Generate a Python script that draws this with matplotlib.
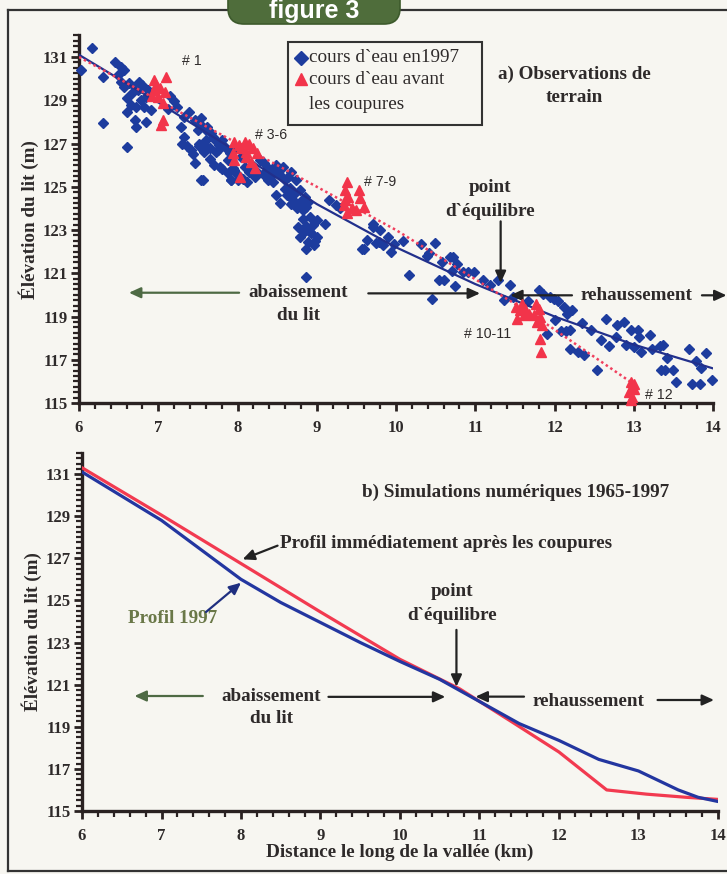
import matplotlib
matplotlib.use("Agg")
import matplotlib.pyplot as plt
from matplotlib.patches import Rectangle, FancyBboxPatch
from matplotlib.lines import Line2D
from matplotlib.transforms import IdentityTransform
from matplotlib.ticker import MultipleLocator

# ---------------- data : panel a (observations) ----------------
blue_x = [6.17, 6.02, 6.46, 6.53, 6.57, 6.30, 6.49, 6.53, 6.63, 6.70, 6.76, 6.67, 6.61, 6.65, 6.72,
          6.78, 6.82, 6.87, 6.84, 6.61, 6.70, 6.84, 6.72, 6.91, 6.30, 6.61, 6.57, 6.74, 6.80,
          7.15, 7.20, 7.12, 7.24, 7.33, 7.39, 7.29, 7.33, 7.46, 7.54, 7.50, 7.60, 7.41, 7.46, 7.54,
          7.62, 7.69, 7.75, 7.81, 7.88, 7.92, 7.96, 8.00, 8.05, 7.30, 7.36, 7.44, 7.52, 7.58, 7.65,
          7.70, 7.78,
          7.54, 7.60, 7.67, 7.58, 7.71, 7.77, 7.65, 7.84, 7.73, 7.90, 7.96, 7.52, 7.56, 7.81, 7.88,
          7.94, 7.92, 8.00, 8.07, 8.15, 8.22, 8.28, 8.34, 8.39, 8.43, 8.47, 8.53, 8.60, 8.64, 8.49,
          8.57, 8.68, 8.74, 8.66, 8.72, 8.79, 8.85, 8.89, 8.49, 8.53, 8.79, 8.83, 8.87, 8.91, 8.95,
          8.93, 9.00, 8.89, 8.76, 8.79, 8.87, 8.87, 9.00, 9.10, 9.16, 9.24, 9.29, 9.57, 9.71, 9.78,
          9.63, 8.60, 8.70, 8.75, 8.82, 8.86, 8.92, 8.96, 8.98, 8.84, 8.68, 8.62, 8.10, 8.18, 8.25,
          8.32, 8.38, 8.45, 8.12,
          9.71, 9.80, 9.90, 9.75, 9.84, 9.97, 9.94, 9.59, 10.09, 10.16, 10.32, 10.49, 10.41, 10.39,
          10.58, 10.68, 10.72, 10.77, 10.54, 10.60, 10.70, 10.75, 10.85, 10.91, 10.98, 10.45, 11.10,
          11.19, 11.29, 11.44, 11.36, 11.48,
          11.80, 11.86, 11.66, 11.94, 11.99, 12.04, 12.12, 12.22, 12.16, 12.01, 11.91, 12.08, 12.14,
          12.20, 12.35, 12.46, 12.58, 12.20, 12.30, 12.37, 12.54, 12.65, 12.69, 12.77, 12.79, 12.88,
          12.96, 13.05, 13.07, 12.90, 13.00, 13.09, 13.21, 13.23, 13.33, 13.37, 13.42, 13.34, 13.40,
          13.49, 13.53, 13.70, 13.78, 13.85, 13.74, 13.83, 13.91, 13.99]
blue_y = [131.40, 130.40, 130.78, 130.55, 130.40, 130.09, 130.17, 129.86, 129.78, 129.63, 129.86,
          129.32, 129.09, 128.78, 128.70, 129.01, 128.70, 129.47, 129.16, 128.47, 128.08, 128.01,
          127.78, 128.55, 127.93, 126.85, 129.63, 129.47, 129.70,
          129.20, 128.95, 128.60, 128.70, 128.24, 128.47, 127.78, 127.31, 128.08, 128.16, 127.62,
          127.16, 126.70, 126.08, 125.31, 127.78, 127.31, 126.70, 127.16, 126.23, 125.31, 125.77,
          125.31, 126.39, 127.00, 126.90, 126.50, 126.90, 126.60, 126.30, 126.00, 125.90,
          127.85, 127.62, 127.47, 127.00, 127.16, 126.93, 126.77, 126.85, 126.62, 126.54, 126.70,
          127.00, 125.31, 125.80, 125.62, 125.85, 125.31, 125.54, 125.38, 125.69, 125.46, 126.23,
          126.08, 125.85, 125.54, 125.77, 125.54, 125.31, 125.46, 126.00, 125.92, 125.69, 125.31,
          124.93, 124.69, 124.85, 124.53, 124.31, 124.61, 124.23, 124.31, 123.92, 124.07, 123.61,
          123.22, 122.84, 122.68, 122.45, 123.15, 122.68, 122.10, 120.83, 123.46, 123.30, 124.38,
          124.15, 124.04, 122.14, 123.15, 122.45, 122.53, 124.90, 124.40, 124.00, 123.50, 123.20,
          122.90, 122.30, 122.50, 122.90, 124.20, 124.60, 125.90, 126.00, 125.70, 125.60, 125.30,
          125.20, 125.20,
          123.26, 122.99, 122.68, 122.40, 122.30, 122.37, 121.99, 122.10, 122.49, 120.91, 122.37,
          122.40, 121.92, 121.79, 121.53, 121.73, 121.76, 121.42, 120.68, 120.71, 121.11, 120.40,
          121.07, 121.07, 121.07, 119.83, 120.68, 120.45, 120.68, 120.45, 119.75, 119.91,
          120.21, 120.06, 119.72, 119.89, 119.80, 119.72, 119.44, 119.29, 119.10, 118.83, 118.21,
          118.33, 118.33, 118.36, 118.71, 118.36, 117.90, 117.52, 117.36, 117.21, 116.52, 118.88,
          117.63, 118.06, 118.59, 118.74, 118.36, 118.36, 118.06, 117.67, 117.60, 117.36, 118.14,
          117.52, 117.63, 117.69, 117.06, 116.52, 116.52, 116.52, 115.98, 117.52, 116.95, 116.60,
          115.90, 115.90, 117.29, 116.06]

red_x = [6.95, 6.97, 7.10, 7.08, 7.06, 7.00, 6.95, 7.04, 7.06, 6.92, 7.02,
         7.96, 8.02, 8.09, 8.15, 8.19, 8.24, 7.94, 7.96, 8.11, 8.17, 8.22, 8.03, 8.11, 8.05,
         9.38, 9.36, 9.40, 9.34, 9.45, 9.53, 9.55, 9.59, 9.38, 9.49, 9.36,
         11.51, 11.57, 11.63, 11.53, 11.61, 11.68, 11.59, 11.76, 11.80, 11.74, 11.82, 11.78, 11.84,
         11.82, 11.83,
         12.96, 12.98, 12.94, 13.00, 12.96, 12.98, 13.00]
red_y = [129.94, 129.70, 130.09, 129.40, 128.86, 129.16, 129.47, 127.85, 128.08, 129.20, 129.55,
         127.08, 126.93, 127.08, 127.00, 126.77, 126.54, 126.54, 126.23, 126.39, 126.15, 125.85,
         125.46, 126.62, 126.80,
         125.23, 124.85, 124.53, 124.15, 124.00, 124.85, 124.46, 124.07, 123.77, 123.92, 124.40,
         119.44, 119.28, 119.36, 118.90, 119.05, 119.13, 119.60, 119.59, 119.36, 119.05, 118.98,
         118.74, 118.59, 117.97, 117.36,
         115.98, 115.75, 115.52, 115.67, 115.14, 115.30, 115.90]

fit1997_x = [6, 7, 8, 9, 10, 11, 12, 13, 14]
fit1997_y = [131.1, 128.9, 126.6, 124.2, 122.2, 120.5, 119.0, 117.7, 116.6]
fitavant_x = [6, 8, 10, 11.8, 12.95]
fitavant_y = [131.0, 127.0, 123.0, 118.9, 116.0]

# ---------------- data : panel b (simulations) ----------------
sim1997_x = [6, 7, 8, 8.5, 9, 9.5, 10, 10.5, 11, 11.5, 12, 12.5, 13, 13.5, 13.75, 14]
sim1997_y = [131.1, 128.8, 126.0, 124.9, 123.95, 123.0, 122.1, 121.25, 120.2, 119.15, 118.35,
             117.45, 116.9, 116.0, 115.65, 115.45]
simavant_x = [6, 7, 8, 9, 10, 10.75, 11.4, 12, 12.6, 13.1, 13.6, 14]
simavant_y = [131.3, 129.05, 126.75, 124.45, 122.2, 120.8, 119.25, 117.8, 116.0, 115.8, 115.65, 115.55]

xticks = [6, 7, 8, 9, 10, 11, 12, 13, 14]
yticks = [115, 117, 119, 121, 123, 125, 127, 129, 131]

# ---------------- style ----------------
SERIF = ['Liberation Serif', 'DejaVu Serif']
SANS = ['Liberation Sans', 'DejaVu Sans']
TXT = '#2e2a2a'
BLUE_PT = '#1d3c9e'
RED_PT = '#f2344a'
GREEN_AR = '#4e6a44'
FS = 13.8

fig = plt.figure(figsize=(7.27, 8.74), dpi=100, facecolor='#f7f6f1')


def style_axes(ax):
    ax.set_facecolor('none')
    ax.set_xlim(6, 14)
    ax.set_ylim(115, 132)
    for s in ['top', 'right']:
        ax.spines[s].set_visible(False)
    for s in ['left', 'bottom']:
        ax.spines[s].set_linewidth(2.4)
        ax.spines[s].set_color('#2a2222')
    ax.set_xticks(xticks)
    ax.set_yticks(yticks)
    ax.xaxis.set_minor_locator(MultipleLocator(0.2))
    ax.yaxis.set_minor_locator(MultipleLocator(0.25))
    ax.tick_params(which='major', direction='out', length=6, width=2, color='#2a2222')
    ax.tick_params(axis='y', which='major', pad=2)
    ax.tick_params(axis='x', which='major', pad=6)
    ax.tick_params(which='minor', direction='out', length=4, width=1.6, color='#2a2222')
    for lab in ax.get_xticklabels() + ax.get_yticklabels():
        lab.set_fontfamily(SERIF)
        lab.set_fontweight('bold')
        lab.set_fontsize(12)
        lab.set_color(TXT)
    ax.set_ylabel('Élévation du lit (m)', family=SERIF, fontweight='bold', fontsize=FS,
                  color=TXT, labelpad=3)


def arrow(ax, x0, y0, x1, y1, color='#222222', lw=1.6):
    ax.annotate('', xy=(x1, y1), xytext=(x0, y0), annotation_clip=False,
                arrowprops=dict(arrowstyle='-|>,head_length=0.7,head_width=0.32', color=color,
                                lw=lw, shrinkA=0, shrinkB=0))


def label(ax, x, y, s, ha='center', size=FS, color=TXT, family=SERIF, weight='bold'):
    ax.text(x, y, s, ha=ha, va='center', family=family, fontweight=weight, fontsize=size,
            color=color, linespacing=1.25)


# ---------------- panel a ----------------
ax1 = fig.add_axes([0.1087, 0.5389, 0.8721, 0.4206])
style_axes(ax1)
ax1.plot(blue_x, blue_y, ls='none', marker='D', ms=4.6, mfc=BLUE_PT, mec=BLUE_PT, clip_on=False,
         zorder=3)
ax1.plot(fit1997_x, fit1997_y, color='#22308c', lw=1.6, zorder=4)
ax1.plot(fitavant_x, fitavant_y, color='#f0405e', lw=1.8, ls=(0, (1, 1.2)), zorder=4)
ax1.plot(red_x, red_y, ls='none', marker='^', ms=7.5, mfc=RED_PT, mec=RED_PT, clip_on=False,
         zorder=5)

# legend (drawn manually)
ax1.add_patch(Rectangle((0.330, 0.756), 0.306, 0.225, transform=ax1.transAxes, fill=False,
                        ec='#333333', lw=1.5, zorder=6))
ax1.plot([0.350], [0.939], transform=ax1.transAxes, marker='D', ms=7, color=BLUE_PT,
         ls='none', zorder=7)
ax1.plot([0.350], [0.881], transform=ax1.transAxes, marker='^', ms=9, color=RED_PT,
         ls='none', zorder=7)
ax1.text(0.363, 0.939, 'cours d`eau en1997', transform=ax1.transAxes, ha='left', va='center',
         family=SERIF, fontsize=FS, color=TXT)
ax1.text(0.363, 0.879, 'cours d`eau avant', transform=ax1.transAxes, ha='left', va='center',
         family=SERIF, fontsize=FS, color=TXT)
ax1.text(0.363, 0.813, 'les coupures', transform=ax1.transAxes, ha='left', va='center',
         family=SERIF, fontsize=FS, color=TXT)

label(ax1, 12.25, 130.2, 'a) Observations de')
label(ax1, 12.25, 129.15, 'terrain')

SMALL = 10.2
label(ax1, 7.30, 130.8, '# 1', ha='left', size=SMALL, family=SANS, weight='normal')
label(ax1, 8.22, 127.4, '# 3-6', ha='left', size=SMALL, family=SANS, weight='normal')
label(ax1, 9.59, 125.2, '# 7-9', ha='left', size=SMALL, family=SANS, weight='normal')
label(ax1, 10.86, 118.2, '# 10-11', ha='left', size=SMALL, family=SANS, weight='normal')
label(ax1, 13.14, 115.35, '# 12', ha='left', size=SMALL, family=SANS, weight='normal')

label(ax1, 11.19, 124.98, 'point')
label(ax1, 11.19, 123.85, 'd`équilibre')
arrow(ax1, 11.32, 123.4, 11.32, 120.55)

label(ax1, 8.77, 120.12, 'abaissement')
label(ax1, 8.77, 119.05, 'du lit')
arrow(ax1, 8.02, 120.1, 6.63, 120.1, color=GREEN_AR)
arrow(ax1, 9.65, 120.07, 11.06, 120.07)
label(ax1, 13.04, 119.98, 'rehaussement')
arrow(ax1, 12.22, 119.98, 11.44, 119.98)
arrow(ax1, 13.86, 119.98, 14.17, 119.98)

# ---------------- panel b ----------------
ax2 = fig.add_axes([0.1128, 0.0721, 0.8748, 0.4096])
style_axes(ax2)
ax2.plot(simavant_x, simavant_y, color='#f23a50', lw=2.3, solid_capstyle='round', zorder=3)
ax2.plot(sim1997_x, sim1997_y, color='#2336a0', lw=2.3, solid_capstyle='round', zorder=4)
ax2.set_xlabel('Distance le long de la vallée (km)', family=SERIF, fontweight='bold',
               fontsize=FS, color=TXT, labelpad=0)

label(ax2, 11.46, 130.15, 'b) Simulations numériques 1965-1997')
label(ax2, 8.49, 127.72, 'Profil immédiatement après les coupures', ha='left')
arrow(ax2, 8.46, 127.6, 8.02, 126.95)
label(ax2, 7.14, 124.16, 'Profil 1997', color='#6a7848')
arrow(ax2, 7.56, 124.45, 8.0, 125.84, color='#1f2f80')
label(ax2, 10.65, 125.4, 'point')
label(ax2, 10.65, 124.3, 'd`équilibre')
arrow(ax2, 10.71, 123.6, 10.71, 120.9)
label(ax2, 8.38, 120.46, 'abaissement')
label(ax2, 8.38, 119.37, 'du lit')
arrow(ax2, 7.52, 120.46, 6.66, 120.46, color=GREEN_AR)
arrow(ax2, 9.1, 120.42, 10.57, 120.42)
label(ax2, 12.37, 120.19, 'rehaussement')
arrow(ax2, 11.56, 120.43, 10.95, 120.43)
arrow(ax2, 13.24, 120.27, 13.95, 120.27)

# ---------------- frame and banner ----------------
fy = 1 - 10 / 874
fig.add_artist(Line2D([8 / 727, 8 / 727], [0.004, fy], color='#333333', lw=1.6))
fig.add_artist(Line2D([8 / 727, 1.0], [fy, fy], color='#333333', lw=1.6))
fig.add_artist(Line2D([8 / 727, 1.0], [0.004, 0.004], color='#333333', lw=1.6))
fig.add_artist(FancyBboxPatch((228, 874 - 24), 172, 44,
                              boxstyle='round,pad=0,rounding_size=16',
                              transform=IdentityTransform(), fc='#4f6d3b', ec='#3d5a2c', lw=1.2,
                              zorder=5))
fig.text(314 / 727, 1 - 11 / 874, 'figure 3', ha='center', va='center', family=SANS,
         fontweight='bold', fontsize=18, color='white', zorder=6)

fig.savefig('out.png', dpi=100, facecolor=fig.get_facecolor())
